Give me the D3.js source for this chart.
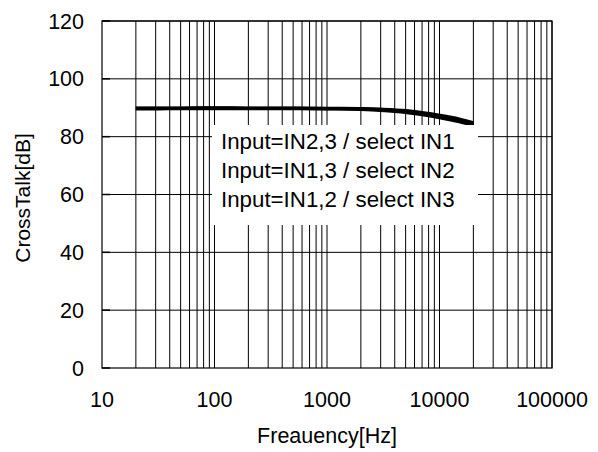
<!DOCTYPE html>
<html><head><meta charset="utf-8">
<script src="https://cdn.jsdelivr.net/npm/d3@7"></script>
<style>body{margin:0;background:#fff}svg{display:block}text{font-family:"Liberation Sans",Arial,sans-serif;fill:#000}</style>
</head><body><svg id="c" width="598" height="452"></svg>
<script>
const freqs = [20, 30, 50, 100, 200, 500, 1000, 2000, 3000, 5000, 7000, 10000, 15000, 20000];
const sel1 = [89.8, 89.8, 89.8, 89.9, 89.8, 89.8, 89.7, 89.6, 89.3, 88.7, 88.0, 87.0, 85.6, 84.3];
const sel2 = [89.6, 89.6, 89.7, 89.7, 89.7, 89.7, 89.6, 89.4, 89.1, 88.4, 87.6, 86.6, 85.2, 83.9];
const sel3 = [89.9, 89.9, 89.9, 90.0, 89.9, 89.9, 89.8, 89.7, 89.5, 89.0, 88.3, 87.4, 86.1, 84.8];
const legendLabels = ["Input=IN2,3 / select IN1", "Input=IN1,3 / select IN2", "Input=IN1,2 / select IN3"];
const xTicks = [10, 100, 1000, 10000, 100000];
const yTicks = [0, 20, 40, 60, 80, 100, 120];

const svg = d3.select("#c");
const L = 102, R = 552, T = 21, B = 368;
const x = d3.scaleLog().domain([10, 100000]).range([L, R]);
const y = d3.scaleLinear().domain([0, 120]).range([B, T]);

// minor + major vertical gridlines
const vLines = [];
for (let d = 10; d < 100000; d *= 10) for (let k = 2; k <= 10; k++) vLines.push(d * k);
svg.append("g").selectAll("line").data(vLines).join("line")
  .attr("x1", d => x(d)).attr("x2", d => x(d)).attr("y1", T).attr("y2", B)
  .attr("stroke", "#000").attr("stroke-width", 1);
// horizontal gridlines
svg.append("g").selectAll("line").data(yTicks.filter(v => v > 0)).join("line")
  .attr("x1", L).attr("x2", R).attr("y1", d => y(d)).attr("y2", d => y(d))
  .attr("stroke", "#000").attr("stroke-width", 1);
// y ticks (inside)
svg.append("g").selectAll("line").data(yTicks).join("line")
  .attr("x1", L).attr("x2", L + 8).attr("y1", d => y(d)).attr("y2", d => y(d))
  .attr("stroke", "#000").attr("stroke-width", 1.5);
// frame
svg.append("rect").attr("x", L).attr("y", T).attr("width", R - L).attr("height", B - T)
  .attr("fill", "none").attr("stroke", "#000").attr("stroke-width", 1.2);

// data lines
const line = d3.line().x((d, i) => x(freqs[i])).y(d => y(d)).curve(d3.curveMonotoneX);
[sel1, sel2, sel3].forEach(s => {
  svg.append("path").datum(s).attr("d", line).attr("fill", "none")
    .attr("stroke", "#000").attr("stroke-width", 3.2);
});

// legend box
svg.append("rect").attr("x", 212).attr("y", 125).attr("width", 266).attr("height", 100)
  .attr("fill", "#fff");
svg.append("g").selectAll("text").data(legendLabels).join("text")
  .attr("x", 221).attr("y", (d, i) => 149 + i * 29)
  .attr("font-size", 22.3).text(d => d);

// tick labels
svg.append("g").selectAll("text").data(xTicks).join("text")
  .attr("x", d => x(d)).attr("y", 407).attr("text-anchor", "middle")
  .attr("font-size", 21.5).text(d => d);
svg.append("g").selectAll("text").data(yTicks).join("text")
  .attr("x", 84).attr("y", d => y(d) + 7.5).attr("text-anchor", "end")
  .attr("font-size", 21.5).text(d => d);

// axis titles
svg.append("text").attr("x", (L + R) / 2).attr("y", 443).attr("text-anchor", "middle")
  .attr("font-size", 21.5).text("Freauency[Hz]");
svg.append("text").attr("transform", "translate(30,198) rotate(-90)").attr("text-anchor", "middle")
  .attr("font-size", 21).text("CrossTalk[dB]");
</script></body></html>
